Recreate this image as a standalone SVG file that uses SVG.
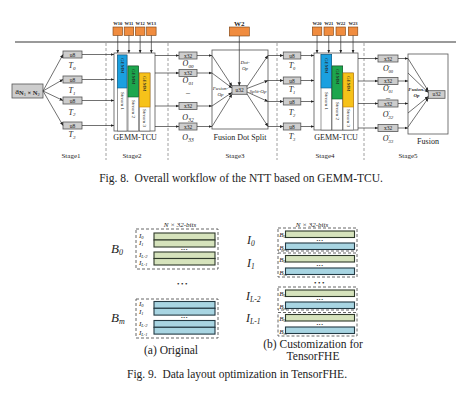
<svg xmlns="http://www.w3.org/2000/svg" width="474" height="409" viewBox="0 0 474 409">
<defs>
<marker id="ah" markerUnits="userSpaceOnUse" markerWidth="4" markerHeight="4" refX="3.5" refY="2" orient="auto"><path d="M0,0.4 L3.5,2 L0,3.6 z" fill="#222"/></marker>
</defs>
<style>
text{font-family:"Liberation Serif","Times New Roman",serif;fill:#222}
.box{fill:#cdcdcd;stroke:#555;stroke-width:0.8}
.w{fill:#F08C3F;stroke:#7a4010;stroke-width:0.6}
.frame{fill:#fff;stroke:#555;stroke-width:0.8}
.c line{stroke:#333;stroke-width:0.7;fill:none;marker-end:url(#ah)}
.m{font-size:5.5px;text-anchor:middle}
.wl{font-size:4.6px;text-anchor:middle;font-weight:bold}
.lb{font-size:8px;text-anchor:middle;font-style:italic}
.op{font-size:5px;text-anchor:middle;font-style:italic}
.st{font-size:7px;text-anchor:middle}
.cap{font-size:8px;text-anchor:middle;fill:#222}
.vt{font-size:5px}
.dash{stroke:#888;stroke-width:0.8;stroke-dasharray:3 2}
.gb{fill:#D6E3BC;stroke:#2f3a2a;stroke-width:1.1}
.bb{fill:#A8D5E2;stroke:#243a44;stroke-width:1.1}
.dbox{fill:none;stroke:#555;stroke-width:0.9;stroke-dasharray:3 2}
.blue{fill:#1BA0E0;stroke:#0b5a86;stroke-width:0.6}
.green{fill:#1DA64D;stroke:#0b5a25;stroke-width:0.6}
.yellow{fill:#F6C21A;stroke:#C77D00;stroke-width:0.6}
.sw{fill:#fff;stroke:#555;stroke-width:0.6}
.f9{font-size:11.5px;text-anchor:middle}
.li{font-style:italic;font-size:7px}
.dots{font-size:5px;text-anchor:middle;letter-spacing:0.6px}
.bdots{font-size:7px;text-anchor:middle;letter-spacing:1.5px}
</style>

<!-- top rail and stage separators -->
<g id="rail">
<line x1="15" y1="42" x2="456" y2="42" stroke="#9a9a9a" stroke-width="1.8"/>
<line class="dash" x1="106" y1="43" x2="106" y2="160"/>
<line class="dash" x1="168" y1="43" x2="168" y2="160"/>
<line class="dash" x1="277" y1="43" x2="277" y2="160"/>
<line class="dash" x1="364" y1="43" x2="364" y2="160"/>
</g>

<!-- weights -->
<g id="w1">
<rect class="w" x="113" y="27" width="9.5" height="8.5"/><text class="wl" x="117.75" y="25.3">W10</text>
<rect class="w" x="124.2" y="27" width="9.5" height="8.5"/><text class="wl" x="128.95" y="25.3">W11</text>
<rect class="w" x="135.4" y="27" width="9.5" height="8.5"/><text class="wl" x="140.15" y="25.3">W12</text>
<rect class="w" x="146.6" y="27" width="9.5" height="8.5"/><text class="wl" x="151.35" y="25.3">W13</text>
</g>
<g id="w2">
<rect class="w" x="229.3" y="27" width="20" height="9"/><text x="239.3" y="25.8" font-size="7" font-weight="bold" text-anchor="middle">W2</text>
</g>
<g id="w3">
<rect class="w" x="312.3" y="27" width="9.5" height="8.5"/><text class="wl" x="317.05" y="25.3">W20</text>
<rect class="w" x="324" y="27" width="9.5" height="8.5"/><text class="wl" x="328.75" y="25.3">W21</text>
<rect class="w" x="336" y="27" width="9.5" height="8.5"/><text class="wl" x="340.75" y="25.3">W22</text>
<rect class="w" x="348.3" y="27" width="9.5" height="8.5"/><text class="wl" x="353.05" y="25.3">W23</text>
</g>

<!-- stage 1 -->
<g id="input">
<rect class="box" x="12" y="84" width="31" height="14"/>
<text x="27.5" y="93.8" text-anchor="middle" font-size="8.5">a<tspan font-size="6.5" dy="1.2" font-weight="bold">N</tspan><tspan font-size="4.5" dy="1">1</tspan><tspan font-size="6.5" dy="-1" font-weight="bold"> × N</tspan><tspan font-size="4.5" dy="1">2</tspan></text>
</g>
<g id="s1">
<rect class="box" x="63" y="51" width="19" height="7"/><text class="m" x="72.5" y="56.5">u8</text>
<text class="lb" x="72" y="68">T<tspan font-size="5" dy="1.5">0</tspan></text>
<rect class="box" x="63" y="76" width="19" height="7"/><text class="m" x="72.5" y="81.5">u8</text>
<text class="lb" x="72" y="93">T<tspan font-size="5" dy="1.5">1</tspan></text>
<rect class="box" x="63" y="97" width="19" height="7"/><text class="m" x="72.5" y="102.5">u8</text>
<text class="lb" x="72" y="114.5">T<tspan font-size="5" dy="1.5">2</tspan></text>
<rect class="box" x="63" y="122" width="19" height="7"/><text class="m" x="72.5" y="127.5">u8</text>
<text class="lb" x="72" y="137">T<tspan font-size="5" dy="1.5">3</tspan></text>
</g>

<!-- stage 2 GEMM-TCU -->
<g id="gemm1">
<rect class="frame" x="114" y="53" width="41" height="78"/>
<rect class="sw" x="117.5" y="55" width="9.5" height="76"/>
<rect class="blue" x="117.5" y="55" width="9.5" height="33"/>
<rect class="sw" x="128" y="66" width="10.5" height="65"/>
<rect class="green" x="128" y="66" width="10.5" height="31"/>
<rect class="sw" x="139.5" y="73" width="10.5" height="58"/>
<rect class="yellow" x="139.5" y="73" width="10.5" height="34"/>
<text class="vt" transform="translate(122.25,58) rotate(90)" dy="0.35em">GEMM</text>
<text class="vt" transform="translate(133.25,69) rotate(90)" dy="0.35em">GEMM</text>
<text class="vt" transform="translate(144.75,76) rotate(90)" dy="0.35em">GEMM</text>
<text class="vt" transform="translate(122.25,92) rotate(90)" dy="0.35em" font-size="5.5">Stream 1</text>
<text class="vt" transform="translate(133.25,100) rotate(90)" dy="0.35em" font-size="5.5">Stream 2</text>
<text class="vt" transform="translate(144.75,109) rotate(90)" dy="0.35em" font-size="5.5">Stream 3</text>
<text class="cap" x="135" y="139.5">GEMM-TCU</text>
</g>
<g id="s2">
<rect class="box" x="179" y="52" width="18" height="7"/><text class="m" x="188" y="57.5">x32</text>
<text class="lb" x="188" y="66">O<tspan font-size="5" dy="1.5">00</tspan></text>
<rect class="box" x="179" y="69.5" width="18" height="7"/><text class="m" x="188" y="75">x32</text>
<text class="lb" x="188" y="83">O<tspan font-size="5" dy="1.5">01</tspan></text>
<text class="cap" x="188" y="95">–</text>
<rect class="box" x="179" y="102.5" width="18" height="7"/><text class="m" x="188" y="108">x32</text>
<text class="lb" x="188" y="120" font-size="9">O<tspan font-size="5.5" dy="1.5">32</tspan></text>
<rect class="box" x="179" y="123" width="18" height="7"/><text class="m" x="188" y="128.5">x32</text>
<text class="lb" x="188" y="140" font-size="9">O<tspan font-size="5.5" dy="1.5">33</tspan></text>
</g>

<!-- stage 3 -->
<g id="fds">
<rect class="frame" x="212" y="50" width="56" height="79"/>
<rect class="box" x="232" y="85.7" width="15" height="8.6"/><text class="m" x="239.5" y="92" font-size="6">u32</text>
<text class="op" x="245" y="64">Dot-</text><text class="op" x="245" y="70">Op</text>
<text class="op" x="220.5" y="89.5">Fusion-</text><text class="op" x="220.5" y="96">Op</text>
<text class="op" x="258" y="92.5">Split-Op</text>
<text class="cap" x="240" y="140">Fusion Dot Split</text>
</g>
<g id="s3">
<rect class="box" x="283.3" y="52" width="17.5" height="7"/><text class="m" x="292" y="57.5">u8</text>
<text class="lb" x="292" y="68" font-size="7">T<tspan font-size="4.5" dy="-2.5">′</tspan><tspan font-size="4.5" dx="-1.3" dy="4">0</tspan></text>
<rect class="box" x="283.3" y="77" width="17.5" height="7"/><text class="m" x="292" y="82.5">u8</text>
<text class="lb" x="292" y="92" font-size="7">T<tspan font-size="4.5" dy="-2.5">′</tspan><tspan font-size="4.5" dx="-1.3" dy="4">1</tspan></text>
<rect class="box" x="283.3" y="98" width="17.5" height="7"/><text class="m" x="292" y="103.5">u8</text>
<text class="lb" x="292" y="115" font-size="7">T<tspan font-size="4.5" dy="-2.5">′</tspan><tspan font-size="4.5" dx="-1.3" dy="4">2</tspan></text>
<rect class="box" x="283.3" y="123" width="17.5" height="7"/><text class="m" x="292" y="128.5">u8</text>
<text class="lb" x="292" y="139" font-size="7">T<tspan font-size="4.5" dy="-2.5">′</tspan><tspan font-size="4.5" dx="-1.3" dy="4">3</tspan></text>
</g>

<!-- stage 4 GEMM-TCU -->
<g id="gemm2">
<rect class="frame" x="314" y="53" width="44" height="77"/>
<rect class="sw" x="321" y="54.5" width="10.7" height="75.5"/>
<rect class="blue" x="321" y="54.5" width="10.7" height="33.5"/>
<rect class="sw" x="332" y="66" width="10.7" height="64"/>
<rect class="green" x="332" y="66" width="10.7" height="33"/>
<rect class="sw" x="343" y="73" width="10.5" height="57"/>
<rect class="yellow" x="343" y="73" width="10.5" height="34"/>
<text class="vt" transform="translate(326.35,58) rotate(90)" dy="0.35em">GEMM</text>
<text class="vt" transform="translate(337.35,69) rotate(90)" dy="0.35em">GEMM</text>
<text class="vt" transform="translate(348.25,76) rotate(90)" dy="0.35em">GEMM</text>
<text class="vt" transform="translate(326.35,92) rotate(90)" dy="0.35em" font-size="5.5">Stream 1</text>
<text class="vt" transform="translate(337.35,102) rotate(90)" dy="0.35em" font-size="5.5">Stream 2</text>
<text class="vt" transform="translate(348.25,109) rotate(90)" dy="0.35em" font-size="5.5">Stream 3</text>
<text class="cap" x="336" y="139.5">GEMM-TCU</text>
</g>
<g id="s4">
<rect class="box" x="378" y="55" width="20" height="7"/><text class="m" x="388" y="60.5">x32</text>
<text class="lb" x="388" y="71" font-size="7">O<tspan font-size="4.5" dy="-2.5">′</tspan><tspan font-size="4.5" dx="-1.3" dy="4">00</tspan></text>
<rect class="box" x="378" y="77.5" width="20" height="7"/><text class="m" x="388" y="83">x32</text>
<text class="lb" x="388" y="91" font-size="7">O<tspan font-size="4.5" dy="-2.5">′</tspan><tspan font-size="4.5" dx="-1.3" dy="4">01</tspan></text>
<text class="cap" x="388" y="99.5" font-size="6">–</text>
<rect class="box" x="378" y="100" width="20" height="7"/><text class="m" x="388" y="105.5">x32</text>
<text class="lb" x="388" y="117" font-size="8.5">O<tspan font-size="5" dy="-2.8">′</tspan><tspan font-size="5" dx="-1.5" dy="4.3">32</tspan></text>
<rect class="box" x="378" y="124.5" width="20" height="7"/><text class="m" x="388" y="130">x32</text>
<text class="lb" x="388" y="141" font-size="8.5">O<tspan font-size="5" dy="-2.8">′</tspan><tspan font-size="5" dx="-1.5" dy="4.3">33</tspan></text>
</g>

<!-- stage 5 -->
<g id="fusion">
<rect class="frame" x="408" y="54" width="40" height="80"/>
<rect class="box" x="428.3" y="90.7" width="16.7" height="7.6"/><text class="m" x="436.6" y="96.4">u32</text>
<text class="op" x="416.5" y="90.5" font-weight="bold">Fusion-</text><text class="op" x="416.5" y="96.5" font-weight="bold">Op</text>
<text class="cap" x="428" y="144">Fusion</text>
</g>

<g id="stages">
<text class="st" x="71" y="157.5">Stage1</text>
<text class="st" x="132" y="157.5">Stage2</text>
<text class="st" x="235" y="157.5">Stage3</text>
<text class="st" x="325" y="157.5">Stage4</text>
<text class="st" x="408" y="157.5">Stage5</text>
</g>

<!-- connectors -->
<g id="connectors" class="c">
<line x1="43" y1="91" x2="63" y2="54.5"/>
<line x1="43" y1="91" x2="63" y2="79.5"/>
<line x1="43" y1="91" x2="63" y2="100.5"/>
<line x1="43" y1="91" x2="63" y2="125.5"/>
<line x1="82" y1="54.5" x2="114" y2="54.5"/>
<line x1="82" y1="79.5" x2="114" y2="79.5"/>
<line x1="82" y1="100.5" x2="114" y2="100.5"/>
<line x1="82" y1="125.5" x2="114" y2="125.5"/>
<line x1="117.75" y1="35.5" x2="117.75" y2="53"/>
<line x1="128.95" y1="35.5" x2="128.95" y2="53"/>
<line x1="140.15" y1="35.5" x2="140.15" y2="53"/>
<line x1="151.35" y1="35.5" x2="151.35" y2="53"/>
<line x1="155" y1="55.5" x2="179" y2="55.5"/>
<line x1="155" y1="73" x2="179" y2="73"/>
<line x1="155" y1="106" x2="179" y2="106"/>
<line x1="155" y1="126.5" x2="179" y2="126.5"/>
<line x1="197" y1="55.5" x2="212" y2="55.5"/>
<line x1="197" y1="73" x2="212" y2="73"/>
<line x1="197" y1="106" x2="212" y2="106"/>
<line x1="197" y1="126.5" x2="212" y2="126.5"/>
<line x1="212" y1="55.5" x2="232" y2="86"/>
<line x1="212" y1="73" x2="232" y2="88"/>
<line x1="212" y1="106" x2="232" y2="92.5"/>
<line x1="212" y1="126.5" x2="232" y2="94.3"/>
<line x1="239.3" y1="36" x2="239.3" y2="85.7"/>
<line x1="247" y1="86.5" x2="268" y2="55.5"/>
<line x1="247" y1="88.5" x2="268" y2="80.5"/>
<line x1="247" y1="92" x2="268" y2="101.5"/>
<line x1="247" y1="94" x2="268" y2="126.5"/>
<line x1="268" y1="55.5" x2="283.3" y2="55.5"/>
<line x1="268" y1="80.5" x2="283.3" y2="80.5"/>
<line x1="268" y1="101.5" x2="283.3" y2="101.5"/>
<line x1="268" y1="126.5" x2="283.3" y2="126.5"/>
<line x1="300.8" y1="55.5" x2="314" y2="55.5"/>
<line x1="300.8" y1="80.5" x2="314" y2="80.5"/>
<line x1="300.8" y1="101.5" x2="314" y2="101.5"/>
<line x1="300.8" y1="126.5" x2="314" y2="126.5"/>
<line x1="317.05" y1="35.5" x2="317.05" y2="53"/>
<line x1="328.75" y1="35.5" x2="328.75" y2="53"/>
<line x1="340.75" y1="35.5" x2="340.75" y2="53"/>
<line x1="353.05" y1="35.5" x2="353.05" y2="53"/>
<line x1="358" y1="58.5" x2="378" y2="58.5"/>
<line x1="358" y1="81" x2="378" y2="81"/>
<line x1="358" y1="103.5" x2="378" y2="103.5"/>
<line x1="358" y1="128" x2="378" y2="128"/>
<line x1="398" y1="58.5" x2="408" y2="58.5"/>
<line x1="398" y1="81" x2="408" y2="81"/>
<line x1="398" y1="103.5" x2="408" y2="103.5"/>
<line x1="398" y1="128" x2="408" y2="128"/>
<line x1="408" y1="58.5" x2="428.3" y2="91"/>
<line x1="408" y1="73" x2="428.3" y2="92.5"/>
<line x1="408" y1="113" x2="428.3" y2="96.5"/>
<line x1="408" y1="127" x2="428.3" y2="98"/>
</g>

<text class="f9" x="241" y="181.5" xml:space="preserve">Fig. 8.  Overall workflow of the NTT based on GEMM-TCU.</text>

<!-- Fig 9 (a) -->
<g id="fig9a">
<text x="180" y="226.5" font-size="7" font-style="italic" text-anchor="middle">N ×  32-bits</text>
<g id="b0">
<rect class="dbox" x="136" y="229" width="82" height="40"/>
<rect class="gb" x="154" y="233" width="61" height="7"/>
<rect class="gb" x="154" y="240" width="61" height="7"/>
<text class="dots" x="184.5" y="251">•••</text>
<rect class="gb" x="154" y="252" width="61" height="6.5"/>
<rect class="gb" x="154" y="258.5" width="61" height="6.5"/>
<text class="li" x="139" y="237.5">I<tspan font-size="4.5" dy="1">0</tspan></text>
<text class="li" x="139" y="244.5">I<tspan font-size="4.5" dy="1">1</tspan></text>
<text class="li" x="139" y="257">I<tspan font-size="4.5" dy="1">L-2</tspan></text>
<text class="li" x="139" y="265">I<tspan font-size="4.5" dy="1">L-1</tspan></text>
<text x="111" y="253" font-size="13" font-style="italic">B<tspan font-size="8" dy="2">0</tspan></text>
</g>
<text class="bdots" x="183" y="285.5">•••</text>
<g id="bm">
<rect class="dbox" x="136" y="299" width="82" height="39"/>
<rect class="bb" x="154" y="301.5" width="61" height="6.8"/>
<rect class="bb" x="154" y="308.3" width="61" height="6.8"/>
<text class="dots" x="184.5" y="319">•••</text>
<rect class="bb" x="154" y="320.5" width="61" height="6.8"/>
<rect class="bb" x="154" y="327.3" width="61" height="6.8"/>
<text class="li" x="139" y="306">I<tspan font-size="4.5" dy="1">0</tspan></text>
<text class="li" x="139" y="313.5">I<tspan font-size="4.5" dy="1">1</tspan></text>
<text class="li" x="139" y="326">I<tspan font-size="4.5" dy="1">L-2</tspan></text>
<text class="li" x="139" y="334.5">I<tspan font-size="4.5" dy="1">L-1</tspan></text>
<text x="111" y="322" font-size="13" font-style="italic">B<tspan font-size="8" dy="2">m</tspan></text>
</g>
<text class="f9" x="171" y="354">(a) Original</text>
</g>

<!-- Fig 9 (b) -->
<g id="fig9b">
<text x="312" y="226.5" font-size="7" font-style="italic" text-anchor="middle">N ×  32-bits</text>
<g id="i0">
<rect class="dbox" x="278" y="228" width="79" height="23"/>
<rect class="gb" x="285.5" y="231" width="69" height="6.5"/>
<text class="dots" x="320" y="242">•••</text>
<rect class="bb" x="285.5" y="243" width="69" height="6.5"/>
<text x="279.3" y="237" font-size="7" font-style="italic">B<tspan font-size="4.5" dy="1">0</tspan></text>
<text x="279.3" y="249.5" font-size="7" font-style="italic">B<tspan font-size="4.5" dy="1">m</tspan></text>
<text x="247" y="244" font-size="12" font-style="italic">I<tspan font-size="7.5" dy="2">0</tspan></text>
</g>
<g id="i1">
<rect class="dbox" x="278" y="253" width="79" height="24"/>
<rect class="gb" x="285.5" y="255.5" width="69" height="6.5"/>
<text class="dots" x="320" y="266.5">•••</text>
<rect class="bb" x="285.5" y="268" width="69" height="6.5"/>
<text x="279.3" y="261.5" font-size="7" font-style="italic">B<tspan font-size="4.5" dy="1">0</tspan></text>
<text x="279.3" y="274.5" font-size="7" font-style="italic">B<tspan font-size="4.5" dy="1">m</tspan></text>
<text x="247" y="267" font-size="12" font-style="italic">I<tspan font-size="7.5" dy="2">1</tspan></text>
</g>
<text class="bdots" x="320" y="284.5">•••</text>
<g id="il2">
<rect class="dbox" x="278" y="287" width="79" height="23"/>
<rect class="gb" x="285.5" y="290" width="69" height="6.5"/>
<text class="dots" x="320" y="301">•••</text>
<rect class="bb" x="285.5" y="302" width="69" height="6.5"/>
<text x="279.3" y="296" font-size="7" font-style="italic">B<tspan font-size="4.5" dy="1">0</tspan></text>
<text x="279.3" y="308.5" font-size="7" font-style="italic">B<tspan font-size="4.5" dy="1">m</tspan></text>
<text x="246" y="299.5" font-size="12" font-style="italic">I<tspan font-size="7.5" dy="2">L-2</tspan></text>
</g>
<g id="il1">
<rect class="dbox" x="278" y="312.5" width="79" height="23.5"/>
<rect class="gb" x="285.5" y="314.5" width="69" height="6.5"/>
<text class="dots" x="320" y="325.5">•••</text>
<rect class="bb" x="285.5" y="327" width="69" height="6.5"/>
<text x="279.3" y="320.5" font-size="7" font-style="italic">B<tspan font-size="4.5" dy="1">0</tspan></text>
<text x="279.3" y="333.5" font-size="7" font-style="italic">B<tspan font-size="4.5" dy="1">m</tspan></text>
<text x="246" y="322" font-size="12" font-style="italic">I<tspan font-size="7.5" dy="2">L-1</tspan></text>
</g>
<text class="f9" x="313" y="348">(b) Customization for</text>
<text class="f9" x="313" y="360">TensorFHE</text>
</g>

<text class="f9" x="237" y="378" xml:space="preserve">Fig. 9.  Data layout optimization in TensorFHE.</text>
</svg>
